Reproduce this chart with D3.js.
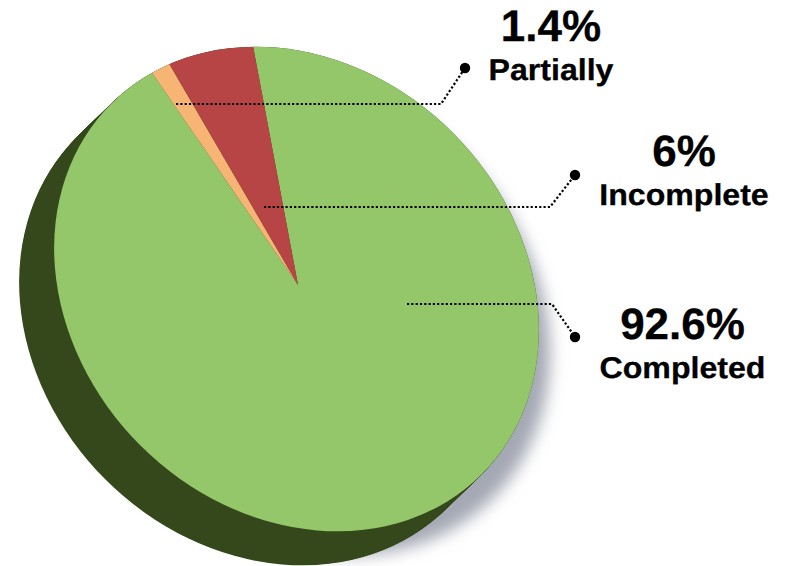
<!DOCTYPE html>
<html>
<head>
<meta charset="utf-8">
<script src="https://cdn.jsdelivr.net/npm/d3@7"></script>
<style>
  html, body { margin: 0; padding: 0; background: #fff; overflow: hidden; }
  text { font-family: "Liberation Sans", Arial, sans-serif; font-weight: bold; fill: #000; stroke: #000; stroke-width: 0.3; text-anchor: middle; text-rendering: geometricPrecision; }
</style>
</head>
<body>
<div id="graph"></div>
<script>
/*******************************************************************************
* Data
*******************************************************************************/
var categories = ['Completed', 'Partially', 'Incomplete'];
var percents = [92.6, 1.4, 6];
var percentLabels = ['92.6%', '1.4%', '6%'];
var colors = ['#94c66a', '#f6b574', '#b74546'];

/*******************************************************************************
* Layout
*******************************************************************************/
var width = 787;
var height = 566;
var center = [296.5, 289];     // middle of the tilted top face
var apex = [298, 285];         // point where the slices meet
var tilt = 'rotate(45) scale(262,221) rotate(-45)';
var depth = [-35, 34];
var startDeg = -6;

// leader line + label placement, same order as categories
var callouts = [
  { path: [[407, 304], [552, 304], [575, 337]], x: 682.5, yBig: 339, yName: 378 },
  { path: [[176, 104], [441, 104], [465, 68]], x: 551, yBig: 41, yName: 80 },
  { path: [[264, 207], [550, 207], [575, 175]], x: 684, yBig: 166, yName: 205 }
];

var color = d3.scaleOrdinal().domain(categories).range(colors);

var container = d3.select('#graph').append('svg')
  .attr('width', width)
  .attr('height', height)
  .style('display', 'block');

var defs = container.append('defs');
defs.append('filter')
  .attr('id', 'blur')
  .attr('x', '-20%').attr('y', '-20%').attr('width', '140%').attr('height', '140%')
  .append('feGaussianBlur')
  .attr('stdDeviation', 8);

var unitCircle = d3.arc().innerRadius(0).outerRadius(1).startAngle(0).endAngle(2 * Math.PI)();

function place(dx, dy) {
  return 'translate(' + (center[0] + dx) + ',' + (center[1] + dy) + ') ' + tilt;
}

defs.append('clipPath')
  .attr('id', 'face')
  .append('path')
  .attr('d', unitCircle)
  .attr('transform', place(0, 0));

/*******************************************************************************
* Shadow and side of the disc
*******************************************************************************/
// filter sits on the outer group so the blur is not stretched by the tilt
container.append('g')
  .attr('filter', 'url(#blur)')
  .append('path')
  .attr('d', unitCircle)
  .attr('transform', place(11, 24))
  .attr('fill', '#a4a8b4');

var steps = d3.range(0, 1.001, 1 / 50);
container.append('g').selectAll('path')
  .data(steps)
  .enter()
  .append('path')
  .attr('d', unitCircle)
  .attr('transform', function (d) { return place(depth[0] * d, depth[1] * d); })
  .attr('fill', '#35481c');

/*******************************************************************************
* Slices
*******************************************************************************/
var pie = d3.pie()
  .sort(null)
  .startAngle(startDeg * Math.PI / 180)
  .endAngle(startDeg * Math.PI / 180 + 2 * Math.PI);

var arc = d3.arc().innerRadius(0).outerRadius(1.1);

container.append('g')
  .attr('clip-path', 'url(#face)')
  .append('g')
  .attr('transform', 'translate(' + apex[0] + ',' + apex[1] + ') ' + tilt)
  .selectAll('path')
  .data(pie(percents))
  .enter()
  .append('path')
  .attr('d', arc)
  .attr('fill', function (d, i) { return color(categories[i]); });

/*******************************************************************************
* Leader lines and labels
*******************************************************************************/
var line = d3.line();

var notes = container.append('g').selectAll('g')
  .data(callouts)
  .enter()
  .append('g');

notes.append('path')
  .attr('d', function (d) { return line(d.path); })
  .attr('fill', 'none')
  .attr('stroke', '#000')
  .attr('stroke-width', 2.2)
  .attr('stroke-dasharray', '2.2 2.1');

notes.append('circle')
  .attr('cx', function (d) { return d.path[2][0]; })
  .attr('cy', function (d) { return d.path[2][1]; })
  .attr('r', 5.2)
  .attr('fill', '#000');

notes.append('text')
  .attr('transform', function (d) { return 'translate(' + d.x + ',' + d.yBig + ')'; })
  .attr('font-size', 44)
  .text(function (d, i) { return percentLabels[i]; });

notes.append('text')
  .attr('transform', function (d) { return 'translate(' + d.x + ',' + d.yName + ') scale(1.07,1)'; })
  .attr('font-size', 30)
  .text(function (d, i) { return categories[i]; });
</script>
</body>
</html>
